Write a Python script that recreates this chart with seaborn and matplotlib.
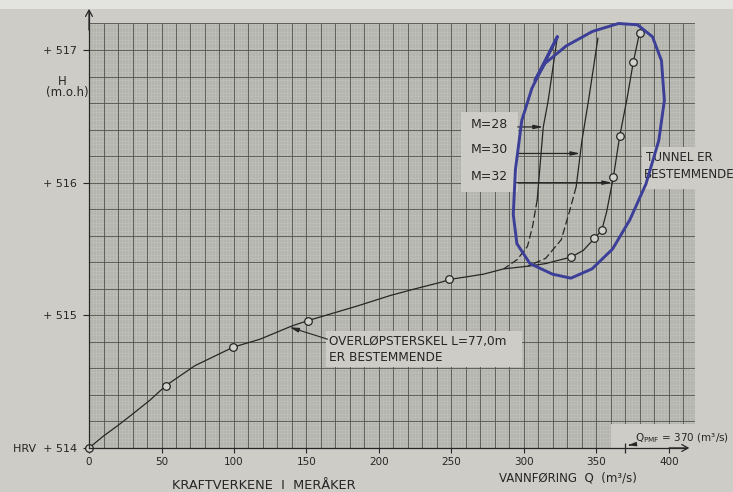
import numpy as np
import matplotlib
matplotlib.use("Agg")
import matplotlib.pyplot as plt
import seaborn as sns
from matplotlib.patches import Polygon, Rectangle

# Reservoir level H (m.o.h) against discharge Q (m3/s)
main_q = [0, 10, 20, 30, 42, 53, 73, 99.5, 118, 140, 151, 185, 208, 225, 243,
          248.6, 272, 286, 302.6, 315, 332.7, 341, 348.5, 353.6, 357, 361.6,
          366, 371, 375.4, 379.7]
main_h = [514.0, 514.09, 514.17, 514.255, 514.36, 514.47, 514.62, 514.76,
          514.82, 514.92, 514.96, 515.07, 515.15, 515.2, 515.25, 515.27,
          515.31, 515.35, 515.37, 515.39, 515.44, 515.49, 515.58, 515.64,
          515.78, 516.04, 516.35, 516.63, 516.91, 517.13]

# computed points (open circles)
point_q = [0, 53, 99.5, 151, 248.6, 332.7, 348.5, 353.6, 361.6, 366, 375.4, 379.7]
point_h = [514.0, 514.47, 514.76, 514.96, 515.27, 515.44, 515.58, 515.64,
           516.04, 516.35, 516.91, 517.13]

# tunnel-controlled branches, M = 28 and M = 30
m28_solid_q = [323, 320, 316.7, 313.3, 311, 309.1]
m28_solid_h = [517.10, 516.87, 516.62, 516.42, 516.12, 515.87]
m28_dash_q = [309.1, 305.9, 302.4, 295.3, 286]
m28_dash_h = [515.87, 515.67, 515.52, 515.42, 515.35]

m30_solid_q = [351, 344.5, 340, 336]
m30_solid_h = [517.09, 516.62, 516.32, 515.97]
m30_dash_q = [336, 331.3, 325.7, 315, 302.6]
m30_dash_h = [515.97, 515.78, 515.57, 515.43, 515.37]

# label arrows: level and the Q where each branch is met
m_labels = ["M=28", "M=30", "M=32"]
m_label_h = [516.44, 516.25, 516.05]
m_arrow_h = [516.42, 516.22, 516.0]
m_arrow_q = [313.3, 338.9, 360.9]
m_arrow_start = [295.7, 295.7, 294.3]

# hand-drawn loop around the tunnel-controlled region
loop_q = [323.0, 305.4, 298.5, 294.1, 292.6, 295.1, 304.1, 319.7, 332.3, 346.9,
          361.1, 373.0, 384.1, 393.0, 396.8, 394.8, 388.6, 378.3, 365.2, 347.2,
          329.0, 314.6, 307.5]
loop_h = [517.10, 516.71, 516.47, 516.10, 515.76, 515.54, 515.39, 515.31,
          515.28, 515.35, 515.50, 515.72, 515.99, 516.32, 516.62, 516.92,
          517.10, 517.19, 517.20, 517.14, 517.03, 516.90, 516.77]

x_ticks = [0, 50, 100, 150, 200, 250, 300, 350, 400]
y_ticks = [514, 515, 516, 517]
y_tick_labels = ["HRV  + 514", "+ 515", "+ 516", "+ 517"]
q_pmf = 370

paper = "#cdccc6"
ink = "#262626"
blue = "#3c3f98"

sns.set_theme(style="white")
plt.rcParams["font.family"] = ["DejaVu Sans"]
plt.rcParams["mathtext.default"] = "regular"

fig = plt.figure(figsize=(7.33, 4.92), dpi=100, facecolor=paper)
ax = fig.add_axes([0, 0, 1, 1])
ax.set_facecolor("none")
ax.set_xlim(-61.38, 444.14)
ax.set_ylim(513.668, 517.377)

# light strip along the top edge of the sheet
fig.patches.append(Rectangle((0, 1 - 9 / 492), 1, 9 / 492,
                             transform=fig.transFigure, facecolor="#e3e3df",
                             edgecolor="none", zorder=-1))

# graph-paper area
grid_outline = [(0, 514), (360, 514), (360, 514.18), (418, 514.18),
                (418, 517.2), (0, 517.2)]
paper_fill = Polygon(grid_outline, closed=True, facecolor="#c2c2bc",
                     edgecolor="none", zorder=0)
ax.add_patch(paper_fill)
clip = Polygon(grid_outline, closed=True, transform=ax.transData)

fine_v = ax.vlines(np.arange(0, 420, 2), 514, 517.2, colors="#9a9a95",
                   linewidth=0.25, zorder=0.3)
fine_h = ax.hlines(np.arange(514, 517.2, 0.02), 0, 418, colors="#9a9a95",
                   linewidth=0.25, zorder=0.3)
major_v = ax.vlines(np.arange(0, 420, 10), 514, 517.2, colors="#52524e",
                    linewidth=0.6, zorder=0.5)
major_h = ax.hlines(np.arange(514, 517.21, 0.2), 0, 418, colors="#52524e",
                    linewidth=0.6, zorder=0.5)
for coll in (fine_v, fine_h, major_v, major_h):
    coll.set_clip_path(clip)

# blank label panels on the graph paper
ax.add_patch(Rectangle((256.4, 515.93), 295.7 - 256.4, 0.6, facecolor=paper,
                       edgecolor="none", zorder=1))
ax.add_patch(Rectangle((163.5, 514.61), 298.6 - 163.5, 0.27, facecolor=paper,
                       edgecolor="none", zorder=1))
ax.add_patch(Rectangle((381.5, 515.95), 70, 0.32, facecolor=paper,
                       edgecolor="none", zorder=1))

# curves
sns.lineplot(x=main_q, y=main_h, ax=ax, color=ink, linewidth=0.9,
             sort=False, estimator=None, zorder=3)
for q, h in ((m28_solid_q, m28_solid_h), (m30_solid_q, m30_solid_h)):
    sns.lineplot(x=q, y=h, ax=ax, color=ink, linewidth=0.9,
                 sort=False, estimator=None, zorder=3)
for q, h in ((m28_dash_q, m28_dash_h), (m30_dash_q, m30_dash_h)):
    sns.lineplot(x=q, y=h, ax=ax, color=ink, linewidth=0.9,
                 linestyle=(0, (6, 2.5)), sort=False, estimator=None, zorder=3)

sns.scatterplot(x=point_q, y=point_h, ax=ax, marker="o", s=30,
                facecolor="#d3d2cc", edgecolor=ink, linewidth=0.9, zorder=4)

# M labels with arrows onto their branches
for lab, lh, ah, aq, a0 in zip(m_labels, m_label_h, m_arrow_h, m_arrow_q,
                               m_arrow_start):
    ax.text(263.0, lh, lab, fontsize=9, color=ink, va="center", ha="left",
            zorder=6)
    ax.annotate("", xy=(aq, ah), xytext=(a0, ah),
                arrowprops=dict(arrowstyle="-|>,head_length=0.6,head_width=0.13",
                                color=ink, lw=0.9, shrinkA=0, shrinkB=0,
                                mutation_scale=9),
                zorder=6)

ax.text(383.8, 516.19, "TUNNEL ER", fontsize=8.6, color=ink, va="center",
        ha="left", zorder=6)
ax.text(382.6, 516.06, "BESTEMMENDE", fontsize=8.6, color=ink, va="center",
        ha="left", zorder=6)

ax.text(165.5, 514.80, "OVERLØPSTERSKEL L=77,0m", fontsize=8.7, color=ink,
        va="center", ha="left", zorder=6)
ax.text(165.5, 514.68, "ER BESTEMMENDE", fontsize=8.7, color=ink,
        va="center", ha="left", zorder=6)
ax.annotate("", xy=(138.4, 514.91), xytext=(164.5, 514.82),
            arrowprops=dict(arrowstyle="-|>,head_length=0.6,head_width=0.15",
                            color=ink, lw=0.8, shrinkA=0, shrinkB=0,
                            mutation_scale=9),
            zorder=6)

# hand-drawn loop
sns.lineplot(x=loop_q + loop_q[:1], y=loop_h + loop_h[:1], ax=ax, color=blue,
             linewidth=2.1, sort=False, estimator=None, zorder=7,
             solid_capstyle="round", solid_joinstyle="round")

# axes
for side in ("top", "right"):
    ax.spines[side].set_visible(False)
ax.spines["left"].set_position(("data", 0))
ax.spines["bottom"].set_position(("data", 514))
ax.spines["left"].set_bounds(514, 517.29)
ax.spines["bottom"].set_bounds(0, 412)
for side in ("left", "bottom"):
    ax.spines[side].set_color(ink)
    ax.spines[side].set_linewidth(0.9)
    ax.spines[side].set_zorder(5)

ax.annotate("", xy=(0, 517.31), xytext=(0, 517.15),
            arrowprops=dict(arrowstyle="->,head_length=0.45,head_width=0.25",
                            color=ink, lw=0.9, shrinkA=0, shrinkB=0,
                            mutation_scale=10))
ax.annotate("", xy=(414, 514), xytext=(400, 514),
            arrowprops=dict(arrowstyle="->,head_length=0.45,head_width=0.25",
                            color=ink, lw=0.9, shrinkA=0, shrinkB=0,
                            mutation_scale=10))

ax.set_xticks(x_ticks)
ax.set_xticklabels([str(v) for v in x_ticks])
ax.set_yticks(y_ticks)
ax.set_yticklabels(y_tick_labels)
ax.tick_params(axis="x", direction="out", length=3.6, width=0.8, pad=3,
               labelsize=7.5, colors=ink, bottom=True)
ax.tick_params(axis="y", direction="out", length=4.3, width=0.8, pad=4.3,
               labelsize=8, colors=ink, left=True)
ax.set_xlabel("")
ax.set_ylabel("")

# Q_PMF marker on the discharge axis
sns.scatterplot(x=[q_pmf], y=[514], ax=ax, marker="|", s=60, color=ink,
                linewidth=0.9, zorder=6)
ax.annotate(r"Q$_{PMF}$ = 370 (m³/s)", xy=(q_pmf + 1.5, 514.02),
            xytext=(376.5, 514.075), fontsize=7.5, color=ink, va="center",
            ha="left",
            arrowprops=dict(arrowstyle="-|>,head_length=0.6,head_width=0.15",
                            color=ink, lw=0.8, shrinkA=1, shrinkB=0,
                            mutation_scale=8))

# axis titles
ax.text(-18.6, 516.766, "H", fontsize=8.5, color=ink, ha="center", va="center")
ax.text(-15.2, 516.676, "(m.o.h)", fontsize=8.5, color=ink, ha="center",
        va="center")
ax.text(282.8, 513.774, "VANNFØRING  Q  (m³/s)", fontsize=8.5, color=ink,
        ha="left", va="center")
ax.text(57.2, 513.765, "KRAFTVERKENE  I  MERÅKER", fontsize=9.3, color=ink,
        ha="left", va="top")

if ax.get_legend() is not None:
    ax.get_legend().remove()

fig.savefig("out.png", dpi=100, facecolor=paper)
